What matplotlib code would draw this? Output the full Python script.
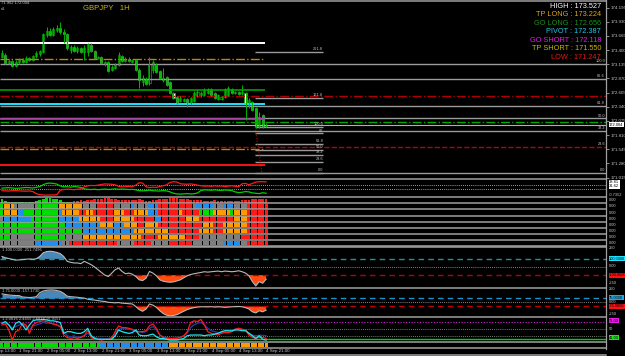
import matplotlib
matplotlib.use("Agg")
import matplotlib.pyplot as plt
from matplotlib.lines import Line2D
import numpy as np

plt.rcParams["font.family"] = ["Liberation Sans", "DejaVu Sans"]

W, H = 625, 356

# GBPJPY H1 candles, 1 Sep 14:00 .. 4 Sep 21:00
opens = [173.271, 173.308, 173.159, 173.196, 173.103, 173.178, 173.215, 173.178, 173.252, 173.215,
         173.290, 173.327, 173.364, 173.682, 173.757, 173.682, 173.776, 173.813, 173.738, 173.701,
         173.402, 173.458, 173.383, 173.439, 173.364, 173.364, 173.495, 173.383, 173.252, 173.271,
         173.140, 173.178, 173.028, 173.065, 173.121, 173.290, 173.196, 173.234, 173.178, 173.215,
         173.028, 172.803, 172.859, 172.785, 173.028, 173.121, 173.009, 172.841, 172.897, 172.803,
         172.598, 172.523, 172.448, 172.448, 172.486, 172.411, 172.448, 172.542, 172.561, 172.561,
         172.598, 172.673, 172.598, 172.486, 172.486, 172.523, 172.561, 172.673, 172.598, 172.617,
         172.598, 172.598, 172.355, 172.430, 172.318, 171.963, 172.187, 171.981]
closes = [173.346, 173.159, 173.196, 173.103, 173.178, 173.215, 173.178, 173.252, 173.215, 173.290,
          173.346, 173.383, 173.701, 173.757, 173.682, 173.794, 173.813, 173.738, 173.701, 173.439,
          173.458, 173.383, 173.439, 173.364, 173.439, 173.514, 173.383, 173.252, 173.271, 173.159,
          173.178, 173.009, 173.084, 173.121, 173.308, 173.196, 173.234, 173.196, 173.215, 173.028,
          172.841, 172.878, 172.766, 173.140, 173.178, 172.990, 172.878, 172.878, 172.747, 172.598,
          172.505, 172.411, 172.505, 172.486, 172.392, 172.505, 172.598, 172.617, 172.598, 172.654,
          172.673, 172.561, 172.505, 172.561, 172.523, 172.673, 172.691, 172.598, 172.617, 172.579,
          172.617, 172.411, 172.467, 172.280, 171.963, 172.149, 171.963, 172.004]
highs = [173.402, 173.346, 173.234, 173.215, 173.215, 173.252, 173.252, 173.290, 173.271, 173.308,
         173.383, 173.402, 173.720, 173.832, 173.813, 173.832, 173.869, 173.925, 173.794, 173.720,
         173.495, 173.495, 173.476, 173.458, 173.495, 173.533, 173.533, 173.402, 173.290, 173.290,
         173.196, 173.196, 173.121, 173.159, 173.364, 173.308, 173.271, 173.271, 173.234, 173.234,
         173.065, 172.934, 172.897, 173.271, 173.215, 173.159, 173.028, 173.065, 172.915, 172.822,
         172.617, 172.542, 172.542, 172.505, 172.505, 172.523, 172.635, 172.654, 172.635, 172.691,
         172.691, 172.691, 172.617, 172.579, 172.542, 172.691, 172.729, 172.691, 172.635, 172.635,
         172.747, 172.617, 172.505, 172.448, 172.336, 172.243, 172.205, 172.037]
lows = [173.252, 173.140, 173.140, 173.084, 173.084, 173.140, 173.159, 173.159, 173.196, 173.196,
        173.252, 173.290, 173.346, 173.645, 173.663, 173.663, 173.738, 173.701, 173.533, 173.402,
        173.346, 173.364, 173.346, 173.346, 173.215, 173.290, 173.364, 173.234, 173.234, 173.140,
        173.103, 172.990, 173.009, 173.046, 173.103, 173.178, 173.178, 173.178, 173.159, 173.009,
        172.691, 172.729, 172.747, 172.747, 172.972, 172.972, 172.859, 172.803, 172.729, 172.579,
        172.486, 172.392, 172.430, 172.430, 172.336, 172.392, 172.430, 172.523, 172.523, 172.542,
        172.579, 172.542, 172.486, 172.467, 172.467, 172.505, 172.542, 172.579, 172.579, 172.561,
        172.561, 172.093, 172.318, 172.262, 171.944, 171.944, 171.944, 171.963]

bid = 172.004
levels = {"HIGH": 173.527, "TP LONG": 173.224, "GO LONG": 172.656, "PIVOT": 172.387,
          "GO SHORT": 172.118, "TP SHORT": 171.550, "LOW": 171.247}
level_colors = ["#ffffff", "#d9a51c", "#1b8f1b", "#1ccbe8", "#e81ce8", "#c9b400", "#e61a1a"]

price_ticks = [174.195, 173.930, 173.665, 173.400, 173.135, 172.870, 172.605,
               172.340, 172.075, 171.810, 171.545, 171.280, 171.015]

fib1_prices = [173.135, 172.865, 172.360, 172.124, 171.886, 171.108]
fib1_labels = ["100.0", "86.6", "61.8", "50.0", "38.2", "0.0"]
fib2_prices = [173.360, 172.500, 171.968, 171.842, 171.640, 171.538, 171.437, 171.310, 171.108]
fib2_labels = ["261.8", "161.8", "100.0", "87", "61.8", "50.0", "38.2", "23.6", "0.0"]

# oscillator pair
osc_green = [52, 54, 55, 53, 51, 52, 54, 56, 55, 53, 57, 62, 72, 80, 82, 80, 76, 65, 60, 61,
             58, 62, 60, 56, 48, 45, 44, 46, 43, 45, 47, 44, 46, 48, 45, 47, 46, 44, 45, 42,
             38, 36, 38, 40, 37, 36, 35, 38, 36, 30, 22, 18, 17, 18, 20, 18, 19, 24, 38, 42,
             41, 40, 42, 40, 39, 41, 40, 38, 30, 26, 28, 32, 30, 24, 22, 20, 25, 22]
osc_red = [37, 36, 35, 37, 38, 36, 35, 34, 36, 32, 20, 14, 12, 11, 12, 12, 14, 40, 44, 46,
           45, 43, 46, 48, 60, 66, 68, 67, 70, 74, 77, 76, 75, 72, 62, 60, 61, 63, 60, 70,
           84, 82, 60, 55, 58, 56, 62, 66, 72, 86, 90, 88, 78, 76, 75, 77, 74, 70, 66, 64,
           65, 63, 66, 64, 65, 62, 64, 66, 63, 60, 78, 80, 72, 80, 88, 90, 90, 89]

# strength histogram + heat rows (G green, A gray, B blue, O orange, R red)
hist = [4, 2, 1, 1, 1, 1, 1, 1, 1, 1, 2, 3, 4, 5, 5, 4, 4, 3, 1, 1,
        -1, -2, -2, -3, -2, -3, -3, -4, -4, -4, -5, -5, -4, -4, -3, -3, -3, -3, -3, -3,
        -4, -3, -2, -2, -3, -3, -4, -4, -4, -5, -5, -5, -4, -4, -4, -3, -3, -3, -3, -2,
        -2, -2, -3, -2, -2, -2, -2, -2, -2, -2, -3, -3, -3, -4, -4, -4, -4, -4]
heat_rows = [
    [("G", 1), ("O", 3), ("A", 7), ("G", 6), ("O", 7), ("A", 4), ("R", 5), ("A", 5), ("B", 1), ("A", 4),
     ("B", 3), ("R", 10), ("A", 1), ("B", 5), ("A", 3), ("B", 3), ("A", 4), ("R", 6)],
    [("G", 1), ("O", 4), ("B", 2), ("G", 10), ("B", 1), ("O", 5), ("R", 2), ("O", 2), ("R", 6), ("O", 3),
     ("R", 3), ("O", 4), ("B", 3), ("R", 6), ("O", 1), ("R", 5), ("G", 4), ("O", 5), ("G", 1), ("O", 4), ("R", 6)],
    [("A", 1), ("B", 8), ("G", 8), ("B", 6), ("O", 6), ("R", 4), ("O", 6), ("R", 6), ("B", 2), ("R", 7),
     ("O", 4), ("R", 10), ("O", 4), ("R", 6)],
    [("G", 19), ("B", 10), ("O", 4), ("B", 3), ("O", 4), ("R", 2), ("O", 4), ("R", 13), ("O", 3), ("R", 3),
     ("O", 7), ("R", 6)],
    [("G", 24), ("B", 15), ("O", 10), ("R", 9), ("O", 4), ("R", 3), ("O", 7), ("R", 6)],
    [("G", 3), ("A", 7), ("G", 9), ("A", 5), ("O", 17), ("R", 5), ("O", 8), ("R", 4), ("A", 12), ("R", 8)],
    [("A", 10), ("B", 8), ("A", 2), ("R", 14), ("A", 5), ("R", 5), ("A", 5), ("R", 7), ("A", 9), ("B", 5),
     ("A", 2), ("R", 6)],
]
trend_strip = [("G", 29), ("B", 20), ("O", 29)]
heat_colors = {"G": "#00dc00", "A": "#7f7f7f", "B": "#1e8ff0", "O": "#ff9a00", "R": "#ff1a1a"}

cci = [130, 115, 105, 95, 85, 88, 92, 96, 100, 95, 102, 130, 175, 190, 195, 190, 180, 165, 130, 71,
       58, 50, 50, 42, 70, 50, 29, 0, -33, -67, -100, -117, -75, -33, -13, -54, -83, -75, -88, -117,
       -158, -167, -138, -54, -75, -108, -158, -175, -183, -188, -183, -171, -158, -133, -108, -92, -83, -75, -67, -58,
       -63, -58, -54, -50, -58, -50, -54, -58, -54, -46, -58, -75, -108, -179, -233, -179, -200, -150]
cci_slow = [150, 140, 130, 125, 120, 120, 95, 90, 85, 90, 100, 171, 200, 215, 220, 220, 210, 195, 160, 110,
            100, 95, 90, 80, 75, 55, 45, 40, 30, 20, 15, 0, -5, -10, -5, -15, -20, -25, -30, -75,
            -130, -160, -120, -30, -50, -90, -150, -200, -230, -240, -235, -220, -190, -160, -130, -110, -95, -85, -80, -80,
            -82, -78, -85, -80, -84, -90, -85, -80, -78, -75, -80, -95, -120, -170, -190, -150, -170, -140]

line_cyan = [78, 85, 71, 50, 78, 85, 71, 50, 71, 88, 92, 92, 94, 92, 88, 88, 85, 81, 36, 43,
             43, 39, 36, 36, 43, 57, 26, 15, 11, 11, 11, 11, 11, 26, 50, 43, 39, 36, 39, 50,
             29, 26, 26, 29, 33, 22, 15, 15, 11, 8, 8, 8, 11, 15, 26, 29, 29, 29, 29, 26,
             29, 29, 33, 36, 43, 47, 47, 46, 50, 50, 47, 47, 36, 26, 15, 26, 11, 8]
line_red = [71, 75, 50, 8, 43, 50, 78, 71, 36, 71, 81, 85, 88, 85, 78, 75, 71, 64, 29, 19,
            15, 19, 15, 19, 26, 50, 19, 11, 11, 8, 11, 11, 15, 43, 67, 60, 60, 57, 53, 43,
            43, 43, 47, 67, 75, 57, 29, 19, 15, 15, 15, 15, 19, 26, 43, 81, 88, 85, 94, 71,
            43, 36, 33, 29, 36, 39, 39, 43, 53, 57, 53, 50, 29, 19, 15, 19, 19, 15]
line_navy = [81, 78, 71, 57, 64, 71, 75, 64, 50, 67, 71, 75, 81, 78, 81, 75, 71, 64, 43, 26,
             22, 26, 19, 22, 26, 36, 26, 19, 15, 15, 14, 14, 19, 36, 53, 57, 57, 53, 50, 47,
             43, 39, 43, 57, 64, 50, 29, 22, 19, 15, 15, 17, 19, 26, 36, 60, 71, 78, 81, 71,
             57, 47, 43, 39, 39, 43, 42, 50, 53, 57, 53, 50, 36, 29, 26, 28, 28, 26]

time_bars = [-3, 5, 13, 21, 29, 37, 45, 53, 61, 69, 77]
time_labels = ["1 Sep 13:00", "1 Sep 21:00", "2 Sep 05:00", "2 Sep 13:00", "2 Sep 21:00",
               "3 Sep 05:00", "3 Sep 13:00", "3 Sep 21:00", "4 Sep 05:00", "4 Sep 13:00",
               "4 Sep 21:00"]


def expand(runs):
    out = []
    for c, k in runs:
        out += [c] * k
    return out


n = len(closes)
x = np.arange(n)
XL = (-0.58, 176.1)
GRAY = "#c8c8c8"
SEP = "#a0a0a0"

fig = plt.figure(figsize=(W / 100, H / 100), dpi=100, facecolor="black")


def panel(y0, y1, ylim):
    ax = fig.add_axes([0, 1 - y1 / H, 606 / W, (y1 - y0) / H])
    ax.set_facecolor("black")
    ax.set_xlim(*XL)
    ax.set_ylim(*ylim)
    for s in ax.spines.values():
        s.set_visible(False)
    ax.set_xticks([])
    ax.set_yticks([])
    return ax


def rlabel(ax, v, s, fc=None):
    kw = dict(transform=ax.get_yaxis_transform(), ha="left", va="center",
              fontsize=2.9, color=GRAY, clip_on=False)
    if fc:
        kw["bbox"] = dict(boxstyle="square,pad=0.12", fc=fc, ec="none")
        kw["color"] = "black"
    ax.text(1.005, v, s, **kw)


# ---------------- main price window
ax = panel(0, 179, (170.99, 174.336))
ax.yaxis.tick_right()
ax.set_yticks(price_ticks)
ax.set_yticklabels([f"{t:.3f}" for t in price_ticks])
ax.tick_params(axis="y", colors=GRAY, labelsize=3.2, length=2, width=0.5, pad=1)

for p, lab in zip(fib1_prices, fib1_labels):
    ax.hlines(p, XL[0], XL[1], color="#9a9a9a", lw=1.0)
    ax.text(175.8, p + 0.015, lab, ha="right", va="bottom", fontsize=2.8, color=GRAY)
ax.text(175.8, 171.609, "23.6", ha="right", va="bottom", fontsize=2.8, color=GRAY)
for p, lab in zip(fib2_prices, fib2_labels):
    ax.hlines(p, 73.8, 93.6, color="#9a9a9a", lw=1.0)
    ax.text(93.6, p + 0.015, lab, ha="right", va="bottom", fontsize=2.8, color=GRAY)
ax.plot([73.8, 75.8], [171.963, 171.108], color="#c00000", lw=0.8, ls=(0, (1, 1.5)))

ax.hlines(bid, XL[0], XL[1], color="#b0b0b0", lw=0.8)
ax.hlines(172.542, XL[0], XL[1], color="#b00000", lw=1.0, ls="-.")
ax.hlines(172.050, XL[0], XL[1], color="#00a800", lw=1.0, ls="-.")
ax.hlines(171.594, XL[0], XL[1], color="#c00000", lw=1.0, ls="--")

lvl = list(levels.values())
ax.hlines(lvl[0], XL[0], 76.7, color="white", lw=1.4)
ax.hlines(lvl[1], XL[0], 76.4, color="#b8860b", lw=1.0, ls="-.")
ax.hlines(lvl[2], XL[0], 76.7, color="#00a000", lw=1.2)
ax.hlines(lvl[3], XL[0], 76.7, color="#19e3ff", lw=1.4)
ax.hlines(lvl[4], XL[0], 76.7, color="#a83aa8", lw=1.2)
ax.hlines(lvl[5], XL[0], 76.4, color="#b8860b", lw=1.0, ls="-.")
ax.hlines(lvl[6], XL[0], 76.7, color="#ff1010", lw=1.4)

wick = "#00b400"
ax.vlines(x, lows, highs, color=wick, lw=0.7)
bull = np.array(closes) >= np.array(opens)
body = np.array(closes) - np.array(opens)
body = np.where(np.abs(body) < 0.008, 0.008, body)
ax.bar(x, body, bottom=opens, width=0.6,
       color=np.where(bull, "black", "white"), edgecolor=wick, linewidth=0.5)

rlabel(ax, bid, f"{bid:.3f}", fc="white")

fig.text(1 / W, 1 - 3 / H, "71.962 172.004", fontsize=3, color=GRAY, va="center")
fig.text(1 / W, 1 - 9 / H, "s1", fontsize=3, color=GRAY, va="center")
fig.text(83 / W, 1 - 8.5 / H, "GBPJPY   1H", fontsize=5.6, color="#c8b400", va="center")
for k, ((name, val), col) in enumerate(zip(levels.items(), level_colors)):
    fig.text(601 / W, 1 - (6 + 8.6 * k) / H, f"{name} : {val:.3f}", fontsize=5.3,
             color=col, ha="right", va="center")

# ---------------- red / green oscillator
axa = panel(179, 197, (0, 106))
axa.hlines([70, 45], XL[0], XL[1], color="#d0d0d0", lw=0.6, ls=(0, (1, 1.5)))
axa.plot(x, osc_green, color="#00d000", lw=0.9)
axa.plot(x, osc_red, color="#ff1a1a", lw=0.9)
rlabel(axa, 86, "38.81", fc="white")
rlabel(axa, 62, "31.62", fc="white")
rlabel(axa, 10, "-0.7352")

# ---------------- histogram + heat rows
axb = panel(197.3, 246, (8, 0))
axb.hlines(np.arange(9), XL[0], XL[1], color=SEP, lw=1.1, clip_on=False)
hv = np.array(hist)
axb.bar(x, -np.abs(hv) / 5 * 0.85, bottom=0.95, width=0.8,
        color=np.where(hv > 0, "#00dc00", "#ff1a1a"))
for r, runs in enumerate(heat_rows):
    cols = [heat_colors[c] for c in expand(runs)]
    axb.bar(x, 0.74, bottom=r + 1.13, width=0.88, color=cols)
    rlabel(axb, r + 1.5, "0.00")
rlabel(axb, 0.5, "0.00")

# ---------------- CCI windows
axc = panel(247, 287.7, (-255, 247))
axc.hlines(100, XL[0], XL[1], color="#139a9a", lw=1.0, ls=(0, (4, 3)))
axc.hlines(0, XL[0], XL[1], color="#b0b0b0", lw=0.6, ls=(0, (1, 1.5)))
axc.hlines(-100, XL[0], XL[1], color="#c00000", lw=1.0, ls=(0, (4, 3)))
cv = np.array(cci, dtype=float)
axc.fill_between(x, cv, 100, where=cv > 100, interpolate=True, color="#4a86b8", lw=0)
axc.fill_between(x, cv, -100, where=cv < -100, interpolate=True, color="#ff4a10", lw=0)
axc.plot(x, cv, color="#b8b8b8", lw=0.8)
axc.text(0, 235, "1 100.0000 -251.7496", fontsize=3, color=GRAY, va="top")
rlabel(axc, 240, "250")
rlabel(axc, 100, "100.0000", fc="#19e3ff")
rlabel(axc, 10, "0.00")
rlabel(axc, -100, "-100.0000", fc="#ff1010")
rlabel(axc, -200, "-250")

axd = panel(288, 316.7, (-257, 255))
axd.hlines(75, XL[0], XL[1], color="#1592d2", lw=1.0, ls=(0, (4, 3)))
axd.hlines(0, XL[0], XL[1], color="#b0b0b0", lw=0.6, ls=(0, (1, 1.5)))
axd.hlines(-75, XL[0], XL[1], color="#c00000", lw=1.0, ls=(0, (4, 3)))
dv = np.array(cci_slow, dtype=float)
axd.fill_between(x, dv, 75, where=dv > 75, interpolate=True, color="#4a86b8", lw=0)
axd.fill_between(x, dv, -75, where=dv < -75, interpolate=True, color="#ff4a10", lw=0)
axd.plot(x, dv, color="#b8b8b8", lw=0.8)
axd.text(0, 245, "1 75.0000 -157.1730", fontsize=3, color=GRAY, va="top")
rlabel(axd, 230, "250")
rlabel(axd, 85, "75.0000", fc="#1fa8e8")
rlabel(axd, 10, "0.00")
rlabel(axd, -75, "-75.0000", fc="#ff1010")
rlabel(axd, -200, "-250")

# ---------------- three-line window
axe = panel(317, 342.3, (-1.25, 104))
axe.hlines(85, XL[0], XL[1], color="#d020d0", lw=0.8, ls=(0, (1, 1.5)))
axe.hlines([53, 25], XL[0], XL[1], color="#a0a0a0", lw=0.6, ls=(0, (1, 1.5)))
axe.hlines(14, XL[0], XL[1], color="#00d000", lw=1.0)
axe.plot(x, line_navy, color="#2040a0", lw=0.9)
axe.plot(x, line_red, color="#ff1a1a", lw=0.9)
axe.plot(x, line_cyan, color="#19e8f0", lw=0.9)
axe.text(0, 102, "1 2.0816 2.4455 2.6814 16.9151", fontsize=3, color=GRAY, va="top")
rlabel(axe, 88, "71.00", fc="#e81ce8")
rlabel(axe, 53, "50")
rlabel(axe, 17, "41.00", fc="#19e819")

# ---------------- trend strip + time scale
axs = panel(342.8, 348, (0, 1))
axs.bar(x, 0.8, bottom=0.1, width=0.88, color=[heat_colors[c] for c in expand(trend_strip)])
for b, s in zip(time_bars, time_labels):
    axs.text(b + 0.1, -0.15, s, fontsize=3.2, color=GRAY, ha="left", va="top",
             transform=axs.get_xaxis_transform(), clip_on=False)

# window frame / separators
for yy in [0.5, 179, 246.6, 287.7, 316.9, 342.4, 348.4, 355.3]:
    fig.add_artist(Line2D([0, 606 / W], [1 - yy / H] * 2, color=SEP, lw=1.1))
fig.add_artist(Line2D([606 / W] * 2, [1, 1 - 349 / H], color=SEP, lw=0.9))

fig.savefig("out.png", dpi=100, facecolor="black")
